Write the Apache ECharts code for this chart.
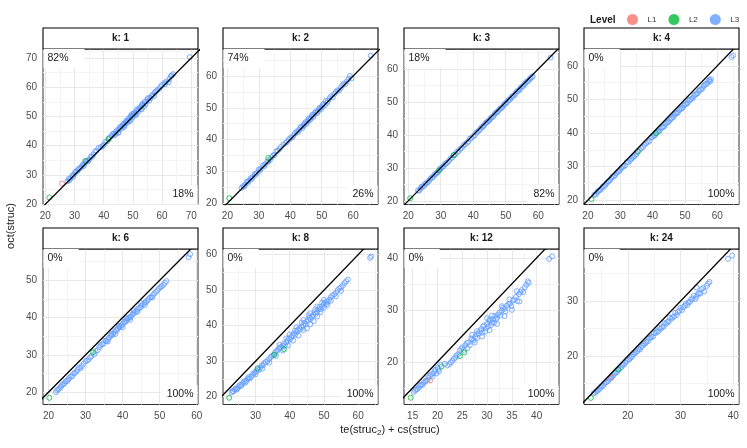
<!DOCTYPE html>
<html>
<head>
<meta charset="UTF-8">
<title>oct vs te + cs</title>
<script src="https://cdn.jsdelivr.net/npm/echarts/dist/echarts.min.js"></script>
</head>
<body style="margin:0;background:#fff">
<div id="main" style="width:747px;height:448px"></div>
<script>
// facet titles and percentages (above / below the diagonal)
var panels = ['k: 1', 'k: 2', 'k: 3', 'k: 4', 'k: 6', 'k: 8', 'k: 12', 'k: 24'];
var pctAbove = [82, 74, 18, 0, 0, 0, 0, 0];
var pctBelow = [18, 26, 82, 100, 100, 100, 100, 100];

// axis extents
var xRange = [[19.2, 72.3], [18.6, 67.9], [18.7, 66.4], [18.8, 66.7], [18.5, 60.35], [20.5, 65.8], [13.25, 44.5], [11.7, 41.1]];
var yRange = [[19.9, 73.1], [19.6, 68.5], [18.9, 66.1], [18.7, 65], [16.7, 58.4], [17.8, 61.6], [11.8, 41.7], [11.2, 39.5]];

// gridline positions (major + minor) and labelled ticks
var xTicks = [
  [20, 25, 30, 35, 40, 45, 50, 55, 60, 65, 70],
  [20, 25, 30, 35, 40, 45, 50, 55, 60, 65],
  [20, 25, 30, 35, 40, 45, 50, 55, 60, 65],
  [20, 25, 30, 35, 40, 45, 50, 55, 60, 65],
  [20, 25, 30, 35, 40, 45, 50, 55, 60],
  [25, 30, 35, 40, 45, 50, 55, 60, 65],
  [15, 17.5, 20, 22.5, 25, 27.5, 30, 32.5, 35, 37.5, 40, 42.5],
  [15, 20, 25, 30, 35, 40]
];
var xLabels = [
  [20, 30, 40, 50, 60, 70],
  [20, 30, 40, 50, 60],
  [20, 30, 40, 50, 60],
  [20, 30, 40, 50, 60],
  [20, 30, 40, 50, 60],
  [30, 40, 50, 60],
  [15, 20, 25, 30, 35, 40],
  [20, 30, 40]
];
var yTicks = [
  [20, 25, 30, 35, 40, 45, 50, 55, 60, 65, 70, 72.5],
  [20, 25, 30, 35, 40, 45, 50, 55, 60, 65],
  [20, 25, 30, 35, 40, 45, 50, 55, 60, 65],
  [20, 25, 30, 35, 40, 45, 50, 55, 60],
  [20, 25, 30, 35, 40, 45, 50, 55],
  [20, 25, 30, 35, 40, 45, 50, 55, 60],
  [15, 20, 25, 30, 35, 40],
  [15, 20, 25, 30, 35]
];
var yLabels = [
  [20, 30, 40, 50, 60, 70],
  [20, 30, 40, 50, 60],
  [20, 30, 40, 50, 60],
  [20, 30, 40, 50, 60],
  [20, 30, 40, 50],
  [20, 30, 40, 50, 60],
  [20, 30, 40],
  [20, 30]
];

// points: [te(struc2)+cs(struc), oct(struc)]
var k1L3 = [[27.5,27.8],[28,28.6],[28.6,28.9],[29.2,29.8],[29.8,30.1],[30.5,31.2],[31,31.3],[31.6,32.2],[32.2,32.5],[32.8,33.5],[33.5,33.9],[34.2,34.8],[35,35.3],[35.6,36.3],[36.5,37],[37.5,38.3],[38.2,39.2],[39.5,39.8],[40.5,41.3],[41.2,41.5],[42,42.8],[42.8,43.3],[43.5,44.2],[44,44.1],[44.6,45.3],[45.2,45.6],[45.8,46.5],[46.3,46.6],[46.9,47.6],[47.3,47.5],[47.8,48.6],[48.3,48.5],[48.8,49.5],[49.2,49.9],[49.6,50.8],[50,50.2],[50.5,51.3],[51,51.2],[51.5,52.5],[52,52.4],[52.6,53.2],[53.1,53.9],[53.5,54],[54,55],[54.6,55.2],[55.2,56.3],[56,56.3],[56.8,57.5],[57.5,58.2],[58.3,59],[59,59.4],[60,60.8],[60.8,61.5],[61.5,62],[62.2,61.7],[63,63.8],[63.8,64.5],[69.5,70.3],
  [28.3,28.2],[29.5,29.4],[30.2,30.9],[31.3,31.9],[32.5,32.9],[33.2,33.1],[34,34.6],[34.7,34.7],[36,36.2],[37,37.9],[39,39.5],[40,40.2],[41.6,42.4],[43,43.9],[43.8,43.6],[44.3,44.9],[44.9,44.6],[45.5,46.2],[46,45.8],[46.6,47.3],[47.1,46.9],[47.6,48.1],[48,47.8],[48.5,49.2],[49,48.8],[49.4,50.3],[49.8,49.6],[50.3,50.9],[50.8,50.6],[51.2,51.9],[51.8,51.6],[52.3,53],[52.9,52.6],[53.3,54.3],[53.8,53.5],[54.3,54.2],[55,55.9],[55.6,55.4],[56.4,57],[57.2,57],[58,58.6],[59.5,60.2],[61,61],[62.5,62.9],[63.3,64],
  [45,44.4],[47,46.4],[49,48.4],[51,50.5],[53,52.5]];
var k1L2 = [[21.4,22.3],[33.7,34.8],[41.7,42.2]];
var k1L1 = [[25.7,27.1]];

var k2L3 = [[24.5,24.8],[25,25.4],[25.6,25.8],[26.2,26.8],[26.8,27],[27.4,27.9],[28,28.2],[28.7,29.2],[29.3,29.5],[30,30.6],[30.6,30.8],[31.3,31.9],[32,32.2],[32.7,33.2],[33.5,33.6],[34.5,35],[35.5,36.3],[36.5,37],[37.8,38.4],[39,39.3],[40,40.5],[41,41.2],[42,42.6],[42.8,43],[43.5,44.1],[44.2,44.3],[44.8,45.5],[45.4,45.6],[46,46.7],[46.5,46.6],[47,47.8],[47.6,47.9],[48.2,48.8],[48.8,48.9],[49.4,50],[50,50.2],[50.6,51.2],[51.3,52.2],[52,52.2],[53,53.7],[54,54.4],[55,55.5],[56,56.2],[57,57.6],[58,58.3],[59,60],[65.6,66.4],
  [25.3,25.2],[26.5,26.4],[27.7,27.6],[29,28.9],[30.3,30.2],[31.7,31.6],[33,33],[34,34.4],[35,35.2],[36,36.5],[37,37.7],[38.5,38.9],[39.5,40],[40.5,40.6],[41.5,42],[42.4,42.3],[43.2,43.8],[43.8,43.6],[44.5,45],[45.1,44.9],[45.7,46.3],[46.2,46.1],[46.8,47.3],[47.3,47.1],[47.9,48.5],[48.5,48.3],[49.1,49.6],[49.7,49.5],[50.3,50.9],[51,50.8],[51.7,51.6],[52.5,53],[53.5,53.3],[54.5,55],[55.5,55.4],[56.5,57],[57.5,57.4],[58.5,59],[59.5,59.3]];
var k2L2 = [[20.6,21.6],[33,34.2]];
var k2L1 = [];

var k3L3 = [[23,23.2],[23.8,23.7],[24.5,24.3],[25.2,25.2],[26,25.7],[26.8,26.7],[27.5,27.2],[28.3,28.1],[29,28.6],[29.8,29.7],[30.5,30.3],[31.3,31.1],[32,31.6],[33,32.8],[34,33.8],[35,34.9],[36,35.8],[37,36.8],[38,37.6],[39,38.9],[40,39.6],[41,40.8],[41.8,41.4],[42.6,42.4],[43.3,42.9],[44,43.8],[44.6,44.2],[45.3,45],[46,45.5],[46.6,46.4],[47.3,46.9],[48,47.7],[48.7,48.2],[49.4,49.1],[50,49.6],[50.7,50.5],[51.4,50.9],[52,51.7],[52.8,52.3],[53.5,53.3],[54.3,53.8],[55,54.7],[55.8,55.4],[56.5,56.2],[57.3,56.8],[58,57.5],[63.8,63.5],
  [23.4,23.1],[24.1,24.3],[24.9,24.6],[25.6,25.3],[26.4,26.1],[27.2,27],[27.9,27.6],[28.7,28.4],[29.4,29.1],[30.1,29.9],[30.9,30.5],[31.6,31.4],[32.5,32.1],[33.5,33.1],[34.5,34.1],[35.5,35.1],[36.5,36.1],[37.5,37.2],[38.5,38],[39.5,39.1],[40.5,40],[41.4,41],[42.2,41.8],[43,42.5],[43.7,43.4],[44.3,43.9],[45,44.5],[45.6,45.3],[46.3,45.8],[47,46.7],[47.6,47.2],[48.3,48],[49,48.5],[49.7,49.4],[50.3,49.9],[51,50.6],[51.7,51.4],[52.4,51.9],[53.1,52.8],[53.9,53.4],[54.6,54.3],[55.4,54.9],[56.1,55.8],[56.9,56.4],[57.6,57.2],[58.3,57.8]];
var k3L2 = [[20.6,20.8],[29.5,29.3],[34,33.9]];
var k3L1 = [];

var k4L3 = [[22,21.6],[22.8,22.2],[23.5,22.9],[24.3,23.6],[25,24.2],[25.8,25.1],[26.5,25.7],[27.3,26.6],[28,27.1],[28.8,28],[29.5,28.6],[30.3,29.5],[31,30.1],[32,31.3],[33,31.8],[33.8,32.6],[34.5,33.2],[35.5,34.6],[36.5,35.5],[37.5,36.5],[38.5,37.3],[39.5,38.6],[40.3,39.1],[41,39.9],[41.8,40.4],[42.5,41.3],[43.2,41.8],[44,42.7],[44.7,43.2],[45.4,44],[46,44.5],[46.8,45.4],[47.5,45.9],[48.2,46.8],[49,47.3],[49.7,48.2],[50.4,48.7],[51.2,49.6],[52,50.1],[52.8,51],[53.5,51.6],[54.3,52.5],[55,53],[55.8,54],[56.5,54.6],[57.3,55.5],[58,56],[64.4,62.6],[64.9,63.1],
  [22.4,21.7],[23.1,22.7],[23.9,23.1],[24.6,24],[25.4,24.5],[26.2,25.5],[26.9,26],[27.6,27],[28.4,27.4],[29.2,28.4],[29.9,28.9],[30.7,29.9],[31.5,30.3],[32.5,31.3],[33.4,32.3],[34.1,33],[35,33.7],[36,35],[37,35.8],[38,37],[39,37.6],[39.9,38.8],[40.7,39.3],[41.4,40.3],[42.1,40.6],[42.9,41.6],[43.6,42],[44.3,43],[45,43.4],[45.7,44.3],[46.4,44.8],[47.1,45.8],[47.8,46.1],[48.6,47.1],[49.3,47.6],[50,48.5],[50.8,48.9],[51.6,49.9],[52.4,50.4],[53.1,51.4],[53.9,51.8],[54.6,52.8],[55.4,53.3],[56.1,54.3],[56.9,54.8],[57.6,55.8],[57.8,55.3]];
var k4L2 = [[21.1,20.3],[35.4,34.4],[41.1,39.9]];
var k4L1 = [];

var k6L3 = [[22,20],[22.6,20.8],[23.3,21.5],[24,22.1],[24.6,22.9],[25.3,23.4],[26,24.2],[26.8,25],[27.5,25.5],[28.2,26.6],[29,27],[30,28.3],[30.8,28.8],[31.6,29.7],[32.4,30.2],[33.7,32.1],[34.5,32.8],[35.3,33.8],[36,34.2],[36.8,35.1],[37.5,35.7],[38.2,36.6],[38.8,37.1],[39.5,37.7],[40.1,38.4],[40.7,38.8],[41.3,39.6],[42,40],[42.6,40.8],[43.2,41.3],[44,42.2],[44.8,42.7],[45.5,43.6],[46.3,44.2],[47,45],[47.8,45.6],[48.6,46.5],[49.4,47.3],[50.2,48.2],[51,48.8],[51.8,49.8],[57.8,56.2],[58.2,57],
  [22.3,20.5],[23,21],[23.6,21.9],[24.3,22.4],[25,23],[25.6,23.8],[26.4,24.3],[27.1,25.2],[27.8,26],[28.6,26.4],[29.5,27.7],[30.4,28.5],[31.2,29.3],[32.7,31],[33.3,31.3],[34.1,32.6],[34.9,33.1],[35.6,33.7],[36.4,34.7],[37.1,35.3],[37.8,36.2],[38.5,36.7],[39.1,37.5],[39.8,38],[40.4,38.9],[41,39.1],[41.6,40],[42.3,40.3],[42.9,41.2],[43.6,41.6],[44.4,42.6],[45.1,43.2],[45.9,44],[46.7,44.6],[47.4,45.4],[48.2,46.1],[49,46.9],[49.8,47.8],[50.6,48.4],[51.4,49.3],
  [36,33.6],[38,35.6],[40,37.4],[42,39.4],[44,41.6],[46,43.4],[48,45.4],[37,35.6],[39,37.8],[41,39.8],[43,41.9],[45,43.9]];
var k6L2 = [[20.2,18.5],[32,30.7]];
var k6L1 = [];

var k8L3 = [[23,21.2],[23.6,21.5],[24.2,22.3],[24.8,22.4],[25.5,23.3],[26.1,23.5],[26.8,24.4],[27.4,24.5],[28,25.5],[28.7,25.6],[29.4,26.5],[30.2,27.2],[31,27.5],[31.8,28.8],[32.5,29.4],[33.5,30],[34.5,31.2],[35.3,31.8],[36,32.8],[36.8,33.5],[37.5,33.9],[38.3,35],[39,35.3],[39.8,36.5],[40.5,36.8],[41.2,37.8],[42,38.2],[42.8,39.4],[43.5,39.6],[44.3,40.8],[45,41.2],[45.8,42.3],[46.5,42.5],[47.3,43.8],[48,43.8],[48.8,45.3],[49.5,45.4],[50.3,46.6],[51,46.8],[52,48],[53,48.8],[54,50],[55,50.8],[56,52],[57,53],[63.5,59.1],[63.8,59.5],
  [23.3,21.6],[23.9,22],[24.5,22],[25.1,22.9],[25.8,23],[26.4,24],[27.1,24],[27.7,25.1],[28.3,25.1],[29,26.1],[29.8,26.8],[30.6,27.7],[31.4,28.2],[32.2,28.8],[33,29.8],[34,30.6],[34.9,31.5],[35.7,32.3],[36.4,33],[37.1,33.9],[37.9,34.3],[38.6,34.5],[39.4,35.9],[40.1,36.1],[40.8,37.3],[41.6,37.4],[42.4,38.8],[43.1,38.9],[43.9,40.2],[44.6,40.3],[45.4,41.7],[46.1,41.8],[46.9,43.1],[47.6,43.3],[48.4,44.6],[49.1,44.7],[49.9,46],[50.6,46.1],[51.5,47.3],[52.5,48.5],[53.5,49.3],[54.5,50.5],[55.5,51.3],[56.5,52.5],
  [30,26.3],[32,27.9],[34,29.6],[36,31.5],[38,33],[39.5,34.4],[41,35.8],[42.5,37.2],[44,38.8],[45,39.2],[46,40.4],[47,41.3],[48,42.6],[49,43.8],[50,45],[51,45.9],[52,47],[53.5,48.3],[55,49.8],[41.5,38.6],[43.5,40.9],[45.5,42.9],[47.5,44.6],[49.5,46.5],[37,34.6],[39,36.4],[40,37.5],[42,39.6],[44,41.6],[46,43.5],[48,45.4],[50,47.3]];
var k8L2 = [[22.3,19.7],[30.6,28],[35.5,31.8],[38.3,33.4]];
var k8L1 = [];

var k12L3 = [[15.2,14.2],[15.7,14.7],[16.2,15.1],[16.7,15.6],[17.2,16],[17.7,16.4],[18.2,17],[18.7,17.6],[19.2,17.8],[19.6,18.5],[20,18.9],[20.3,18.2],[20.6,19.5],[21.5,19.6],[22,19.3],[22.7,19.9],[23.3,20.6],[23.8,21.2],[24.5,22.2],[25,22.8],[25.6,23.2],[26.2,23.7],[26.8,24.5],[27.3,24.1],[27.8,25.3],[28.3,25.5],[28.8,26.3],[29.2,26.8],[29.6,25.8],[30,27.3],[30.4,27.9],[30.8,27.1],[31.2,28.2],[31.6,28.8],[32,28.5],[32.5,29.5],[33,29.9],[33.5,30.2],[34,30.8],[34.6,31.2],[35.2,31.8],[35.8,32.5],[36.4,33],[37,33.8],[37.6,34.3],[38.2,35.5],[42.5,39.8],[43.1,40.3],
  [15.5,14.5],[16,14.8],[16.5,15.4],[17,15.6],[17.5,16.2],[18,16.5],[18.5,17.3],[19,17.2],[19.4,18.2],[19.8,17.8],[20.2,18.6],[22.4,19.6],[23,20.2],[23.6,20.8],[24.2,21.5],[24.8,22.5],[25.3,22.3],[25.9,23.6],[26.5,23.2],[27,24.3],[27.6,24.8],[28,24.6],[28.6,25.9],[29,25.6],[29.4,27],[29.8,26.4],[30.2,26.8],[30.6,28.2],[31,27.6],[31.4,27.5],[31.8,28.2],[32.2,29.1],[32.7,28.9],[33.2,30.4],[33.7,29.7],[34.3,31.1],[34.9,30.7],[35.5,32],[36.1,31.7],[36.7,33.4],[37.3,33.4],[37.9,34.8],[38.4,35.2],
  [26,22.6],[27.5,23.7],[29,24.9],[30.5,26.1],[32,27.3],[33.5,28.8],[35,30],[36.5,31.6],[28,25.9],[31,28.9],[33,30.7],[36,33.6],[34.5,32],[30,28.4],[27,25.2]];
var k12L2 = [[14.6,13.1],[20.8,19.1],[24.5,21.1],[25.4,21.8]];
var k12L1 = [[18.5,16.4]];

var k24L3 = [[13.5,13.2],[14,13.6],[14.5,14],[15,14.5],[15.5,15],[16,15.3],[16.5,15.9],[17,16.3],[17.5,16.9],[18,17.3],[18.5,17.8],[19,18.4],[19.5,18.8],[20,19.4],[20.5,19.7],[21,20.3],[21.5,20.7],[22,21.3],[22.5,21.6],[23,22.2],[23.5,22.6],[24,23.2],[24.5,23.5],[25,24.2],[25.5,24.5],[26,25.1],[26.5,25.3],[27,26],[27.5,26.2],[28,27],[28.5,27.1],[29,27.9],[29.5,28],[30,28.8],[30.5,28.9],[31,29.5],[31.5,29.8],[32,30.3],[32.5,31],[33,30.8],[33.5,31.5],[34,32.2],[34.5,31.8],[35,32.8],[35.5,33.5],[39,37.7],[39.8,38.3],
  [13.8,13.3],[14.3,13.7],[14.8,14.2],[15.3,14.6],[15.8,15.2],[16.3,15.5],[16.8,16],[17.3,16.5],[17.8,17],[18.3,17.5],[18.8,18],[19.3,18.5],[19.8,19.1],[20.3,19.4],[20.8,19.9],[21.3,20.5],[21.8,20.9],[22.3,21.2],[22.8,21.9],[23.3,22.3],[23.8,22.7],[24.3,23.3],[24.8,23.6],[25.3,24.2],[25.8,24.5],[26.3,25],[26.8,25.4],[27.3,25.9],[27.8,26.3],[28.3,26.8],[28.8,27.2],[29.3,27.5],[29.8,28.3],[30.3,28.4],[30.8,29.2],[31.3,29.3],[31.8,29.9],[32.3,30.5],[32.8,30.4],[33.3,31.3],[33.8,31.4],[34.3,32.4],[33,32.5],[35.2,33.2]];
var k24L2 = [[13,12.4],[18.2,17.6]];
var k24L1 = [[16.9,16.1]];

var pointsL1 = [k1L1, k2L1, k3L1, k4L1, k6L1, k8L1, k12L1, k24L1];
var pointsL2 = [k1L2, k2L2, k3L2, k4L2, k6L2, k8L2, k12L2, k24L2];
var pointsL3 = [k1L3, k2L3, k3L3, k4L3, k6L3, k8L3, k12L3, k24L3];

var levels = ['L1', 'L2', 'L3'];
var levelColor = { L1: '#F8766D', L2: '#00BA38', L3: '#619CFF' };

(function () {
  var FONT = '"Liberation Sans", Arial, sans-serif';
  var colLeft = [43, 223, 404, 584];
  var rowTop = [49, 249];
  var PW = 155, PH = 155.5, STRIP = 21;

  function lineColors(ticks, labels) {
    // major lines a bit darker than the minor ones
    var major = '#E8E8E8', minor = '#F4F4F4';
    return labels.indexOf(ticks[0]) >= 0 ? [major, minor] : [minor, major];
  }

  var grids = [], xAxes = [], yAxes = [], series = [], graphics = [];

  for (var i = 0; i < panels.length; i++) {
    var gl = colLeft[i % 4], gt = rowTop[Math.floor(i / 4)];
    grids.push({
      left: gl, top: gt, width: PW, height: PH,
      show: true, backgroundColor: '#fff', borderColor: '#333', borderWidth: 1
    });
    xAxes.push({
      gridIndex: i, type: 'value', min: xRange[i][0], max: xRange[i][1],
      axisLine: { show: false },
      axisTick: { show: false, customValues: xTicks[i] },
      axisLabel: { customValues: xLabels[i], color: '#4D4D4D', fontSize: 10, margin: 7, fontFamily: FONT },
      splitLine: { show: true, lineStyle: { color: lineColors(xTicks[i], xLabels[i]), width: 1 } }
    });
    yAxes.push({
      gridIndex: i, type: 'value', min: yRange[i][0], max: yRange[i][1],
      axisLine: { show: false },
      axisTick: { show: false, customValues: yTicks[i] },
      axisLabel: { customValues: yLabels[i], color: '#4D4D4D', fontSize: 10, margin: 6, fontFamily: FONT },
      splitLine: { show: true, lineStyle: { color: lineColors(yTicks[i], yLabels[i]), width: 1 } }
    });

    var src = { L1: pointsL1[i], L2: pointsL2[i], L3: pointsL3[i] };
    // L3 first so the few L1/L2 points sit on top
    ['L3', 'L1', 'L2'].forEach(function (lv) {
      series.push({
        type: 'scatter', name: lv, xAxisIndex: i, yAxisIndex: i,
        data: src[lv], symbol: 'circle', symbolSize: 5, silent: true,
        itemStyle: { color: 'rgba(255,255,255,0)', borderColor: levelColor[lv], borderWidth: 1 },
        z: 2
      });
    });

    // y = x reference line
    var lo = Math.min(xRange[i][0], yRange[i][0]), hi = Math.max(xRange[i][1], yRange[i][1]);
    series.push({
      type: 'line', xAxisIndex: i, yAxisIndex: i, data: [[lo, lo], [hi, hi]],
      symbol: 'none', clip: true, silent: true, z: 3,
      lineStyle: { color: '#000', width: 1.3 }
    });

    // strip
    graphics.push({
      type: 'rect', z: 10,
      shape: { x: gl, y: gt - STRIP, width: PW, height: STRIP },
      style: { fill: '#fff', stroke: '#000', lineWidth: 1.1 }
    });
    graphics.push({
      type: 'text', z: 11,
      style: {
        x: gl + PW / 2, y: gt - STRIP / 2, text: panels[i],
        align: 'center', verticalAlign: 'middle',
        font: 'bold 10px ' + FONT, fill: '#1A1A1A'
      }
    });
    // percentage labels
    graphics.push({
      type: 'text', z: 12,
      style: {
        x: gl + 0.5, y: gt + 9.5, text: pctAbove[i] + '%',
        align: 'left', verticalAlign: 'middle',
        font: '10.5px ' + FONT, fill: '#1A1A1A',
        backgroundColor: '#fff', padding: [4, 16, 4, 4]
      }
    });
    graphics.push({
      type: 'text', z: 12,
      style: {
        x: gl + PW - 0.5, y: gt + PH - 10, text: pctBelow[i] + '%',
        align: 'right', verticalAlign: 'middle',
        font: '10.5px ' + FONT, fill: '#1A1A1A',
        backgroundColor: '#fff', padding: [3, 4, 5, 6]
      }
    });
  }

  // legend title and axis titles
  graphics.push({
    type: 'text', z: 12,
    style: { x: 590, y: 20, text: 'Level', verticalAlign: 'middle', font: 'bold 10px ' + FONT, fill: '#1A1A1A' }
  });
  graphics.push({
    type: 'text', z: 12, x: 11, y: 226, rotation: Math.PI / 2,
    style: { x: 0, y: 0, text: 'oct(struc)', align: 'center', verticalAlign: 'middle', font: '11px ' + FONT, fill: '#1A1A1A' }
  });
  graphics.push({
    type: 'text', z: 12,
    style: {
      x: 390, y: 430, text: 'te(struc{s|2}) + cs(struc)', align: 'center', verticalAlign: 'middle',
      font: '11px ' + FONT, fill: '#1A1A1A',
      rich: { s: { fontSize: 8, fontFamily: FONT, fill: '#1A1A1A', padding: [6, 0, 0, 0] } }
    }
  });

  var chart = echarts.init(document.getElementById('main'), null, { renderer: 'canvas' });
  chart.setOption({
    animation: false,
    backgroundColor: '#fff',
    textStyle: { fontFamily: FONT },
    legend: {
      left: 622, top: 9, itemWidth: 20, itemHeight: 11, itemGap: 12,
      selectedMode: false, icon: 'circle',
      textStyle: { fontSize: 8, color: '#333', fontFamily: FONT },
      data: levels.map(function (lv) {
        return { name: lv, icon: 'circle', itemStyle: { color: levelColor[lv], borderWidth: 0 } };
      })
    },
    grid: grids,
    xAxis: xAxes,
    yAxis: yAxes,
    series: series,
    graphic: graphics
  });
})();
</script>
</body>
</html>
